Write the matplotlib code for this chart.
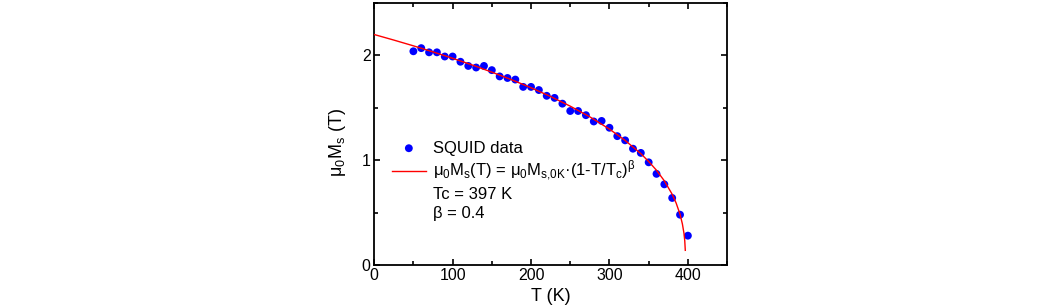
import matplotlib
matplotlib.use('Agg')
import matplotlib.pyplot as plt
from matplotlib.ticker import MultipleLocator

plt.rcParams['font.family'] = ['Liberation Sans', 'DejaVu Sans']
plt.rcParams['mathtext.default'] = 'regular'

# SQUID measurement
temp = [50, 60, 70, 80, 90, 100, 110, 120, 130, 140, 150, 160, 170, 180, 190,
        200, 210, 220, 230, 240, 250, 260, 270, 280, 290, 300, 310, 320, 330,
        340, 350, 360, 370, 380, 390, 400]
ms = [2.04, 2.07, 2.03, 2.03, 1.99, 1.99, 1.94, 1.90, 1.885, 1.90, 1.86, 1.80,
      1.785, 1.77, 1.70, 1.70, 1.67, 1.615, 1.595, 1.54, 1.47, 1.47, 1.43, 1.37,
      1.375, 1.31, 1.23, 1.19, 1.11, 1.07, 0.98, 0.87, 0.77, 0.64, 0.48, 0.28]

# fitted curve
fit_t = [0, 25, 50, 75, 100, 125, 150, 175, 200, 225, 250, 275, 300, 320, 340,
         350, 360, 370, 380, 385, 390, 393, 395, 396, 396.7]
fit_ms = [2.2, 2.147, 2.092, 2.034, 1.973, 1.909, 1.841, 1.769, 1.692, 1.608,
          1.516, 1.414, 1.297, 1.189, 1.063, 0.988, 0.904, 0.803, 0.675, 0.592,
          0.484, 0.392, 0.303, 0.233, 0.14]

fig = plt.figure(figsize=(10.63, 3.08), dpi=100)
ax = fig.add_axes([0.352, 0.1396, 0.332, 0.8504])

ax.scatter(temp, ms, s=32, color='#0000ff', edgecolors='none', label='SQUID data', zorder=3)
ax.plot(fit_t, fit_ms, color='#ff0000', lw=1.0, zorder=4,
        label='μ$_0$M$_s$(T) = μ$_0$M$_{s{,}0K}$·(1-T/T$_c$)$^β$')
ax.plot([], [], ' ', label='Tc = 397 K')
ax.plot([], [], ' ', label='β = 0.4')

ax.set_xlim(0, 450)
ax.set_ylim(0, 2.5)
ax.xaxis.set_major_locator(MultipleLocator(100))
ax.xaxis.set_minor_locator(MultipleLocator(50))
ax.yaxis.set_major_locator(MultipleLocator(1))
ax.yaxis.set_minor_locator(MultipleLocator(0.5))
ax.tick_params(which='both', direction='in', top=True, right=True, labelsize=11.5, width=1.2)
ax.tick_params(which='major', length=4.5, pad=2.5)
ax.tick_params(which='minor', length=3)
for sp in ax.spines.values():
    sp.set_linewidth(1.3)

ax.set_xlabel('T (K)', fontsize=13, labelpad=3)
ax.set_ylabel('μ$_0$M$_s$ (T)', fontsize=13)
ax.yaxis.set_label_coords(-0.073, 0.466)

ax.legend(loc='upper left', bbox_to_anchor=(0.051, 0.475), frameon=False, fontsize=12,
          handlelength=2.0, handletextpad=0.45, labelspacing=0.22, borderpad=0,
          borderaxespad=0)

fig.savefig('out.png', dpi=100)
